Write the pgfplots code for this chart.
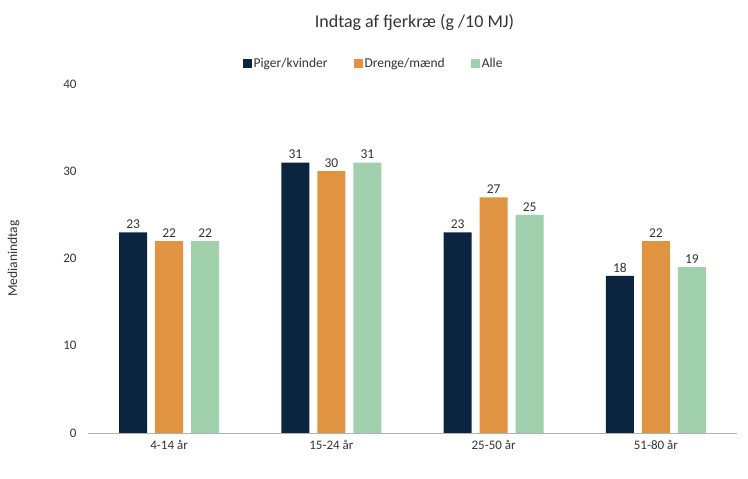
\documentclass[border=0pt]{standalone}
\usepackage{pgfplots}
\pgfplotsset{compat=1.18}
\usepackage{fontspec}
\setmainfont{Carlito}
\definecolor{c1}{HTML}{0B2540}
\definecolor{c2}{HTML}{E09340}
\definecolor{c3}{HTML}{A0D0AC}
\begin{document}
\begin{tikzpicture}
\path[use as bounding box] (0,0) rectangle (748pt,479pt);
\begin{axis}[at={(88pt,46pt)}, anchor=south west,
  scale only axis, width=649pt, height=349pt,
  ybar=8pt, bar width=28pt,
  xmin=-0.5, xmax=3.5, ymin=0, ymax=40,
  xtick=data, xticklabels={4-14 år,15-24 år,25-50 år,51-80 år},
  ytick={0,10,20,30,40},
  major tick length=0pt,
  axis x line*=bottom, axis y line*=left,
  x axis line style={draw=gray!60, -},
  y axis line style={draw=none},
  ticklabel style={font=\fontsize{13}{15}\selectfont, text=black!80},
  /pgf/number format/assume math mode=true,
  yticklabel style={xshift=-8pt},
  xticklabel style={yshift=-4pt},
  nodes near coords,
  every node near coord/.append style={font=\fontsize{13.5}{15}\selectfont, text=black!80},
  title={Indtag af fjerkræ (g /10 MJ)},
  title style={font=\fontsize{18}{21}\selectfont, text=black!80, at={(0.503,1)}, yshift=44pt},
  ylabel={Medianindtag},
  ylabel style={font=\fontsize{13.5}{15}\selectfont, text=black!80, at={(-0.1,0.5)}},
  legend style={at={(0.44,1.03)}, anchor=south, draw=none, legend columns=3,
    font=\fontsize{13.5}{15}\selectfont, text=black!80,
    /tikz/every even column/.append style={column sep=24pt}},
  legend image code/.code={\fill[#1] (0pt,-4.5pt) rectangle (9pt,4.5pt);},
]
\addplot[draw=none, fill=c1] coordinates {(0,23) (1,31) (2,23) (3,18)};
\addplot[draw=none, fill=c2] coordinates {(0,22) (1,30) (2,27) (3,22)};
\addplot[draw=none, fill=c3] coordinates {(0,22) (1,31) (2,25) (3,19)};
\legend{Piger/kvinder, Drenge/mænd, Alle}
\end{axis}
\end{tikzpicture}
\end{document}
